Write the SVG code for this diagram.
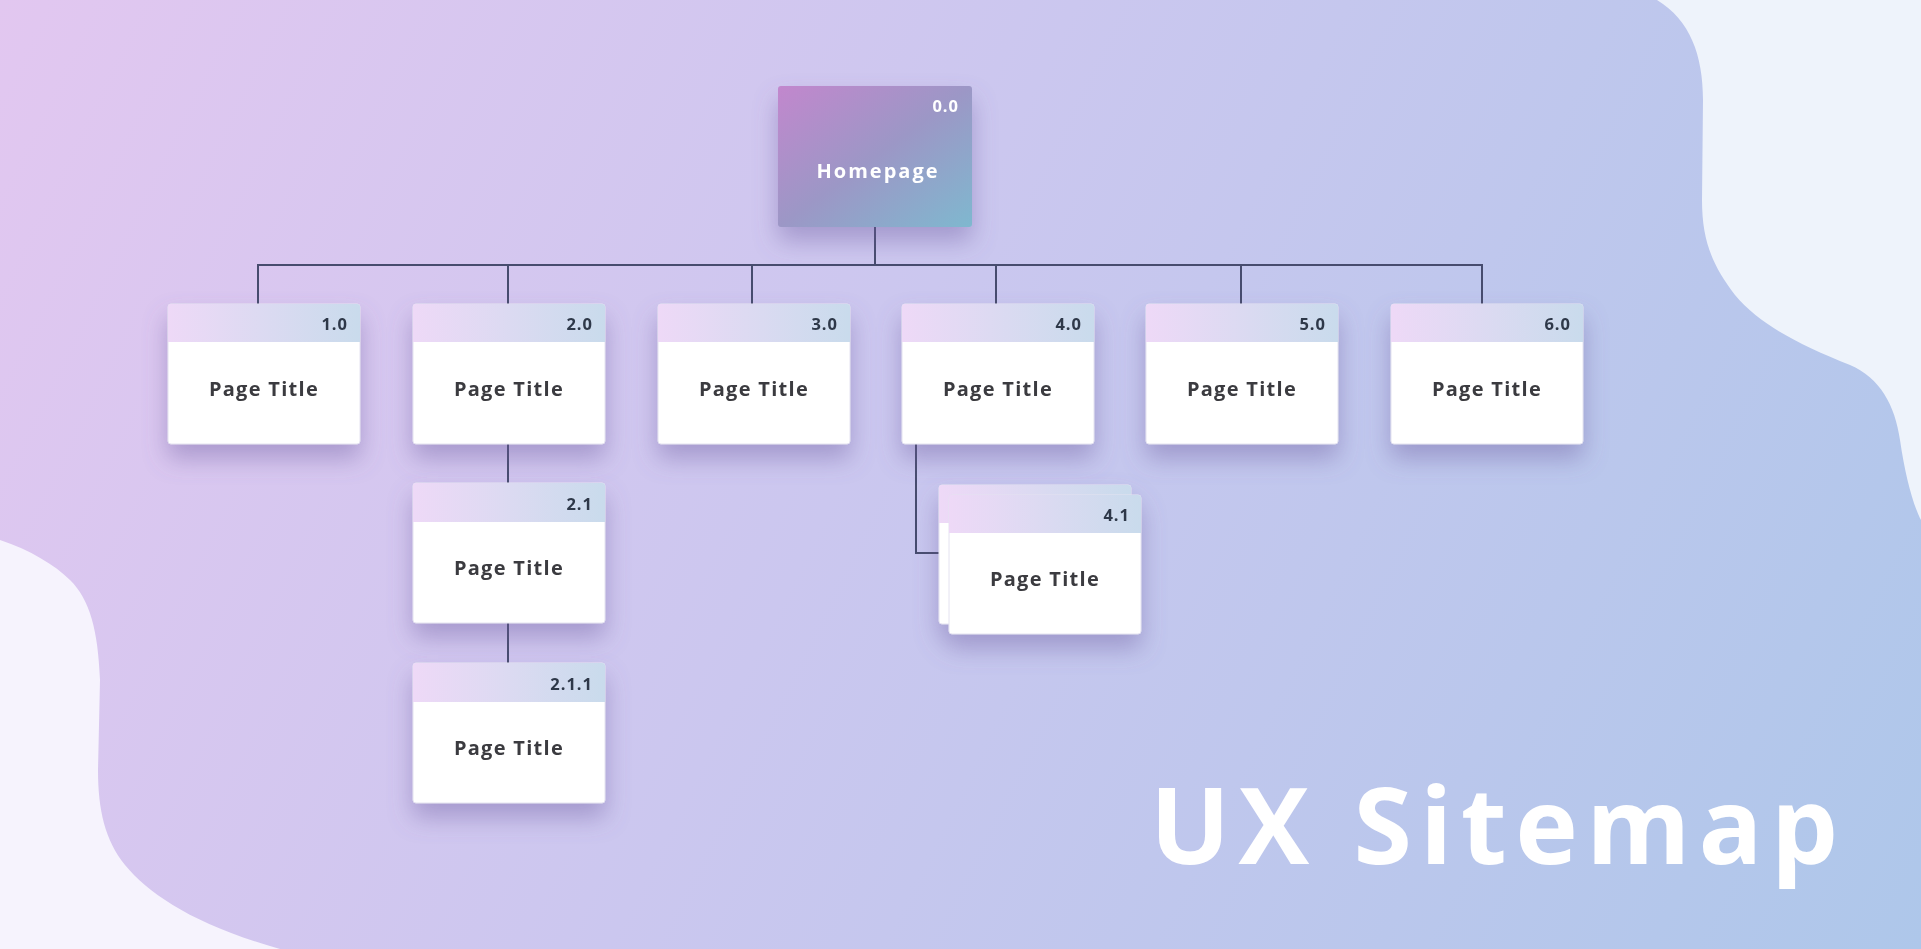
<svg xmlns="http://www.w3.org/2000/svg" width="1921" height="949" viewBox="0 0 1921 949">
  <defs>
    <linearGradient id="bg" x1="0" y1="0" x2="1921" y2="949" gradientUnits="userSpaceOnUse">
      <stop offset="0" stop-color="#e2c7f0"/>
      <stop offset="0.45" stop-color="#cbc7ef"/>
      <stop offset="1" stop-color="#aec7ea"/>
    </linearGradient>
    <linearGradient id="home" x1="0" y1="0" x2="1" y2="1">
      <stop offset="0" stop-color="#c287cd"/>
      <stop offset="0.5" stop-color="#9c97c6"/>
      <stop offset="1" stop-color="#7fb8cf"/>
    </linearGradient>
    <linearGradient id="head" x1="0" y1="0" x2="1" y2="0">
      <stop offset="0" stop-color="#eed9f7"/>
      <stop offset="1" stop-color="#c9dbec"/>
    </linearGradient>
    <filter id="shadow" x="-30%" y="-30%" width="160%" height="190%">
      <feDropShadow dx="0" dy="14" stdDeviation="12" flood-color="#6a5a9e" flood-opacity="0.42"/>
    </filter>
  </defs>
  <style>
    .card { fill: #ffffff; stroke: #e4e2f0; stroke-width: 1; }
    .head { fill: url(#head); }
    .num { font-family: "Open Sans", "Liberation Sans", sans-serif; font-weight: 700; font-size: 16.5px; fill: #2e3848; text-anchor: end; letter-spacing: 1px; }
    .title { font-family: "Open Sans", "Liberation Sans", sans-serif; font-weight: 700; font-size: 20px; fill: #3b3b3f; text-anchor: middle; letter-spacing: 1.3px; }
    .link { fill: none; stroke: #474c6e; stroke-width: 2; }
  </style>

  <!-- background -->
  <rect x="0" y="0" width="1921" height="949" fill="url(#bg)"/>
  <path d="M1657,0 C1690,20 1703,55 1703,100 L1702,200 C1702,240 1712,265 1735,295 C1760,325 1800,345 1850,365 C1880,378 1895,405 1900,440 C1905,475 1913,505 1921,520 L1921,0 Z" fill="#eef3fb"/>
  <path d="M0,540 C30,550 55,565 70,580 C90,600 98,630 100,680 L98,770 C98,810 105,840 125,865 C150,895 195,925 280,949 L0,949 Z" fill="#f6f3fd"/>

  <!-- connectors -->
  <g id="connectors">
    <path class="link" d="M875,227 V265"/>
    <path class="link" d="M258,304 V265 H1482 V304"/>
    <path class="link" d="M508,265 V304"/>
    <path class="link" d="M752,265 V304"/>
    <path class="link" d="M996,265 V304"/>
    <path class="link" d="M1241,265 V304"/>
    <path class="link" d="M508,444 V483"/>
    <path class="link" d="M508,623 V663"/>
    <path class="link" d="M916,444 V553 H939"/>
  </g>

  <!-- root -->
  <g id="node-0-0" filter="url(#shadow)">
    <rect x="778" y="86" width="194" height="141" rx="3" fill="url(#home)"/>
    <text x="959" y="112" class="num" style="fill:#ffffff">0.0</text>
    <text x="878" y="178" class="title" style="fill:#ffffff;letter-spacing:2px">Homepage</text>
  </g>

  <!-- first level -->
  <g id="node-1-0" filter="url(#shadow)">
    <rect class="card" x="168" y="304" width="192" height="140" rx="3"/>
    <path class="head" d="M171,304 H357 A3,3 0 0 1 360,307 V342 H168 V307 A3,3 0 0 1 171,304 Z"/>
    <text x="348" y="330" class="num">1.0</text>
    <text x="264" y="396" class="title">Page Title</text>
  </g>
  <g id="node-2-0" filter="url(#shadow)">
    <rect class="card" x="413" y="304" width="192" height="140" rx="3"/>
    <path class="head" d="M416,304 H602 A3,3 0 0 1 605,307 V342 H413 V307 A3,3 0 0 1 416,304 Z"/>
    <text x="593" y="330" class="num">2.0</text>
    <text x="509" y="396" class="title">Page Title</text>
  </g>
  <g id="node-3-0" filter="url(#shadow)">
    <rect class="card" x="658" y="304" width="192" height="140" rx="3"/>
    <path class="head" d="M661,304 H847 A3,3 0 0 1 850,307 V342 H658 V307 A3,3 0 0 1 661,304 Z"/>
    <text x="838" y="330" class="num">3.0</text>
    <text x="754" y="396" class="title">Page Title</text>
  </g>
  <g id="node-4-0" filter="url(#shadow)">
    <rect class="card" x="902" y="304" width="192" height="140" rx="3"/>
    <path class="head" d="M905,304 H1091 A3,3 0 0 1 1094,307 V342 H902 V307 A3,3 0 0 1 905,304 Z"/>
    <text x="1082" y="330" class="num">4.0</text>
    <text x="998" y="396" class="title">Page Title</text>
  </g>
  <g id="node-5-0" filter="url(#shadow)">
    <rect class="card" x="1146" y="304" width="192" height="140" rx="3"/>
    <path class="head" d="M1149,304 H1335 A3,3 0 0 1 1338,307 V342 H1146 V307 A3,3 0 0 1 1149,304 Z"/>
    <text x="1326" y="330" class="num">5.0</text>
    <text x="1242" y="396" class="title">Page Title</text>
  </g>
  <g id="node-6-0" filter="url(#shadow)">
    <rect class="card" x="1391" y="304" width="192" height="140" rx="3"/>
    <path class="head" d="M1394,304 H1580 A3,3 0 0 1 1583,307 V342 H1391 V307 A3,3 0 0 1 1394,304 Z"/>
    <text x="1571" y="330" class="num">6.0</text>
    <text x="1487" y="396" class="title">Page Title</text>
  </g>

  <!-- second level -->
  <g id="node-2-1" filter="url(#shadow)">
    <rect class="card" x="413" y="483" width="192" height="140" rx="3"/>
    <path class="head" d="M416,483 H602 A3,3 0 0 1 605,486 V522 H413 V486 A3,3 0 0 1 416,483 Z"/>
    <text x="593" y="510" class="num">2.1</text>
    <text x="509" y="575" class="title">Page Title</text>
  </g>
  <g id="node-2-1-1" filter="url(#shadow)">
    <rect class="card" x="413" y="663" width="192" height="140" rx="3"/>
    <path class="head" d="M416,663 H602 A3,3 0 0 1 605,666 V702 H413 V666 A3,3 0 0 1 416,663 Z"/>
    <text x="593" y="690" class="num">2.1.1</text>
    <text x="509" y="755" class="title">Page Title</text>
  </g>
  <g id="node-4-1" filter="url(#shadow)">
    <!-- stacked back sheet -->
    <rect class="card" x="939" y="485" width="192" height="139" rx="3"/>
    <path class="head" d="M942,485 H1128 A3,3 0 0 1 1131,488 V523 H939 V488 A3,3 0 0 1 942,485 Z"/>
    <rect class="card" x="949" y="495" width="192" height="139" rx="3"/>
    <path class="head" d="M952,495 H1138 A3,3 0 0 1 1141,498 V533 H949 V498 A3,3 0 0 1 952,495 Z"/>
    <text x="1130" y="521" class="num">4.1</text>
    <text x="1045" y="586" class="title">Page Title</text>
  </g>

  <!-- heading -->
  <text x="1150" y="864" font-family="'Open Sans', 'Liberation Sans', sans-serif" font-weight="700" font-size="106" fill="#ffffff" textLength="688" lengthAdjust="spacing">UX Sitemap</text>
</svg>
